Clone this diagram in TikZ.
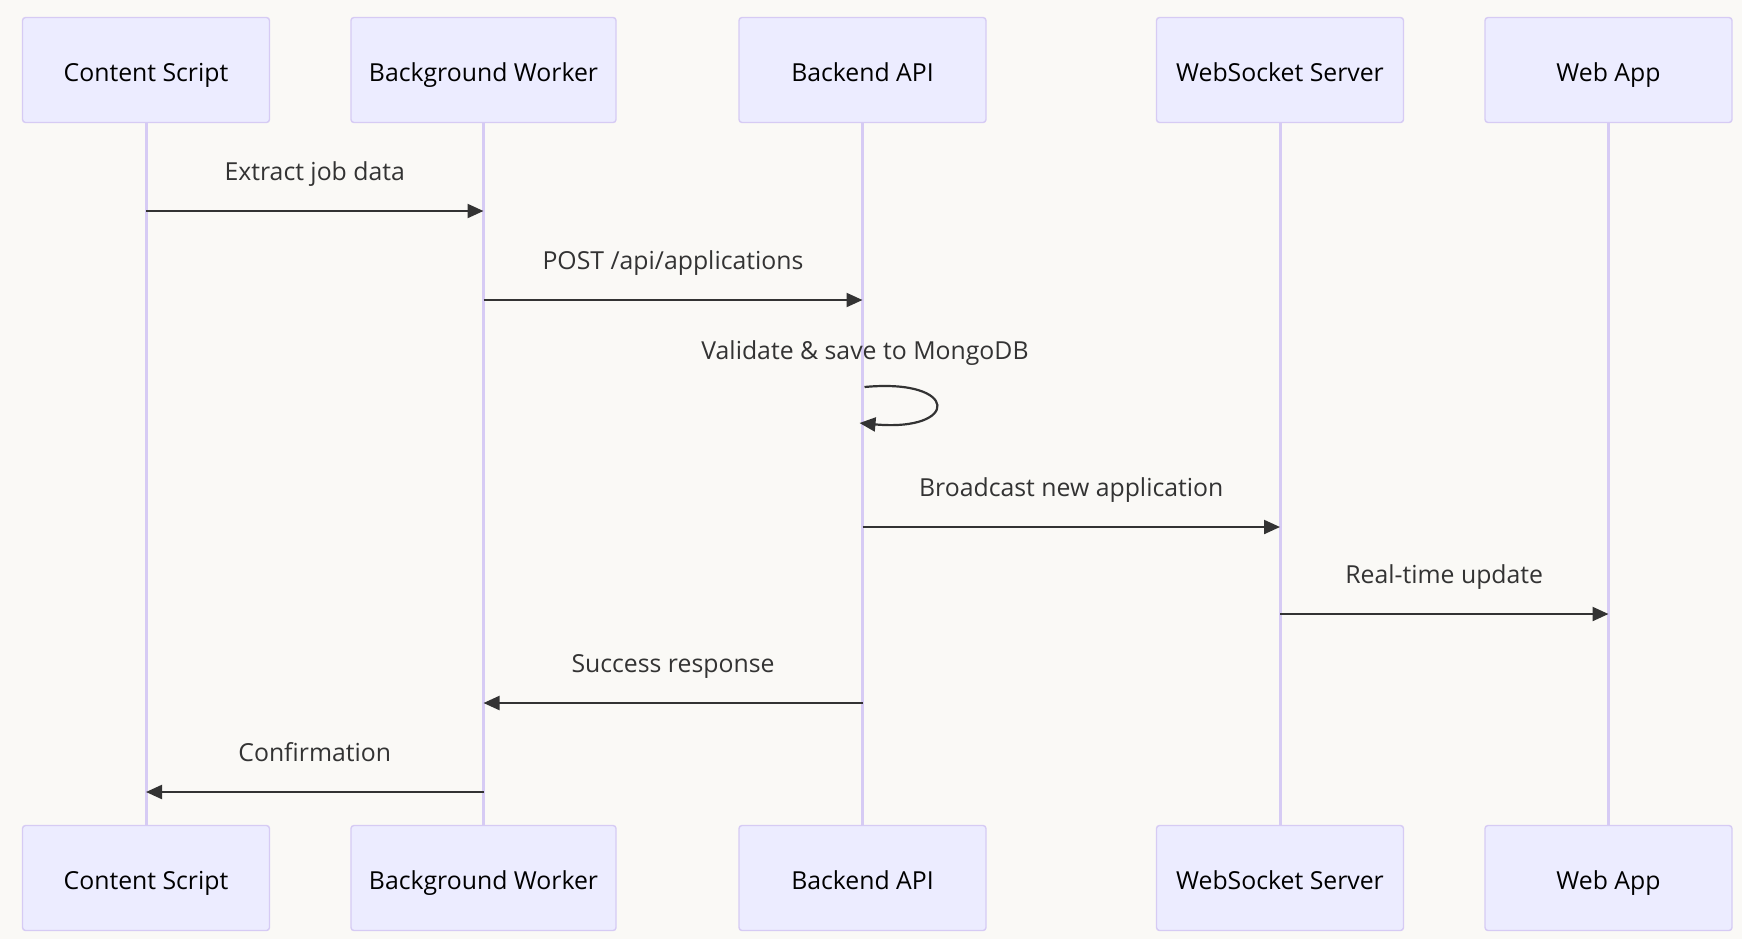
\documentclass[tikz,border=0pt]{standalone}
\usepackage{fontspec}
\setmainfont{Open Sans}
\usepackage{tikz}
\usetikzlibrary{arrows.meta, calc}

\definecolor{bgcol}{HTML}{FAF9F6}
\definecolor{actfill}{HTML}{ECECFF}
\definecolor{actline}{HTML}{D6CBF4}
\definecolor{msgcol}{HTML}{333333}

\tikzset{
  actor/.style={draw=actline, fill=actfill, line width=0.7pt, rounded corners=1.5pt,
    minimum width=123.5pt, minimum height=52.5pt, inner xsep=9pt,
    text height=12pt, text depth=1pt,
    font=\fontsize{12.4}{14}\selectfont, text=black},
  life/.style={actline, line width=1.5pt},
  msg/.style={msgcol, line width=1.1pt, -{Triangle[length=8pt, width=7pt]}},
  lbl/.style={font=\fontsize{12.4}{14}\selectfont, text=msgcol,
    text height=9pt, text depth=2.5pt}
}

\begin{document}
\begin{tikzpicture}[x=0.5pt, y=-0.5pt]
\fill[bgcol] (0,0) rectangle (1742,939);
\useasboundingbox (0,0) rectangle (1742,939);
% actors, top and bottom
\foreach \x/\n/\t in {146/cs/Content Script, 483.5/bw/Background Worker, 862.5/api/Backend API,
    1280/ws/WebSocket Server, 1608.5/app/Web App}
{
  \node[actor] (\n) at (\x,70) {\t};
  \node[actor] (\n b) at (\x,878) {\t};
  \draw[life] (\n.south) -- (\n b.north);
}
% messages
\draw[msg] (cs |- 0,211) -- node[lbl, yshift=18.75pt] (m1) {Extract job data} (bw |- 0,211);
\draw[msg] (bw |- 0,300) -- node[lbl, yshift=18.75pt] (m2) {POST /api/applications} (api |- 0,300);
\node[lbl] (m3) at (865,352.5) {Validate \& save to MongoDB};
\draw[msg] ($(api |- 0,387)+(2,0)$) .. controls (960,378) and (960,432) .. ($(api |- 0,423)+(-3,0)$);
\draw[msg] (api |- 0,527) -- node[lbl, yshift=18.75pt] (m4) {Broadcast new application} (ws |- 0,527);
\draw[msg] (ws |- 0,614) -- node[lbl, yshift=18.75pt] (m5) {Real-time update} (app |- 0,614);
\draw[msg] (api |- 0,703) -- node[lbl, yshift=18.75pt] (m6) {Success response} (bw |- 0,703);
\draw[msg] (bw |- 0,792) -- node[lbl, yshift=18.75pt] (m7) {Confirmation} (cs |- 0,792);
\end{tikzpicture}
\end{document}
